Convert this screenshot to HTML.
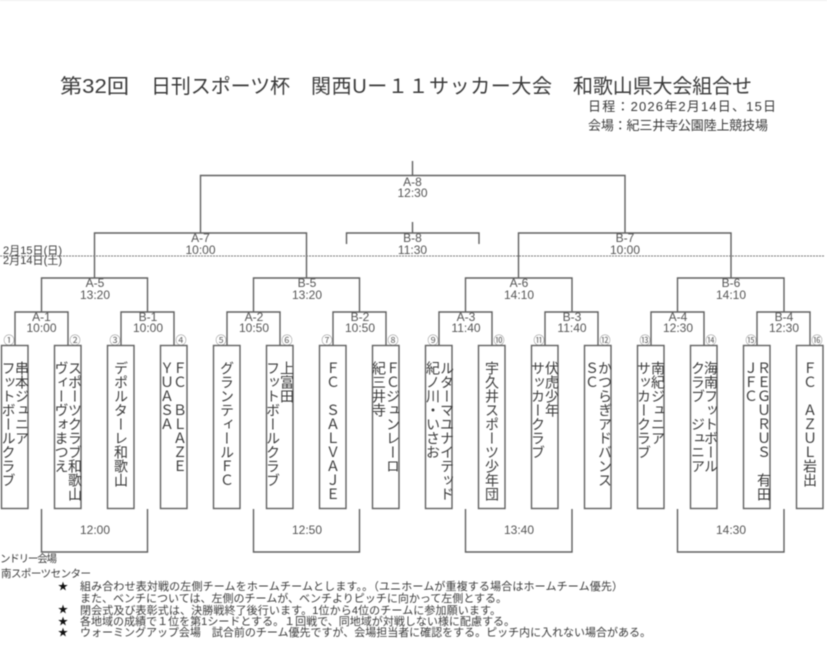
<!DOCTYPE html>
<html lang="ja"><head><meta charset="utf-8"><style>
html,body{margin:0;padding:0;background:#fff}
#p{position:relative;width:827px;height:658px;overflow:hidden;background:#fff;filter:blur(.45px);font-family:"Liberation Sans","Noto Sans CJK JP",sans-serif;color:#444}
svg{position:absolute;left:0;top:0}
.v{position:absolute;top:361px;width:14px;writing-mode:vertical-rl;text-orientation:upright;font:14px/14px "Noto Sans CJK JP",sans-serif;color:#3a3a3a;white-space:pre}
text{font-family:"Liberation Sans","Noto Sans CJK JP",sans-serif;fill:#3a3a3a}
.l text{font-size:12px;text-anchor:middle;fill:#555}
.c text{font-size:11px;text-anchor:middle;fill:#666}
</style></head><body><div id="p">
<svg width="827" height="658" viewBox="0 0 827 658">
<rect x="0" y="0" width="827" height="1" fill="#eee"/>
<g fill="none" stroke="#606060" stroke-width="1.4">
<path d="M412.5 161V175.5M200.5 233V175.5H625V233"/>
<path d="M412.5 222V233M346.5 244V233H479V244"/>
<path d="M94.5 278V233H306.5V278M518.5 278V233H731V278"/>
<path d="M41.5 312V278H147.5V312M253.5 312V278H359.5V312M465.5 312V278H572V312M677.5 312V278H784V312"/>
<path d="M15 345V312H68V345M121 345V312H174V345M227 345V312H280V345M333 345V312H386V345M439 345V312H492V345M545 345V312H598V345M651 345V312H704V345M757 345V312H810V345"/>
<rect x="1.5" y="345.5" width="26.5" height="163"/><rect x="54.5" y="345.5" width="26.5" height="163"/>
<rect x="107.5" y="345.5" width="26.5" height="163"/><rect x="160.5" y="345.5" width="26.5" height="163"/>
<rect x="213.5" y="345.5" width="26.5" height="163"/><rect x="266.5" y="345.5" width="26.5" height="163"/>
<rect x="319.5" y="345.5" width="26.5" height="163"/><rect x="372.5" y="345.5" width="26.5" height="163"/>
<rect x="425.5" y="345.5" width="26.5" height="163"/><rect x="478.5" y="345.5" width="26.5" height="163"/>
<rect x="531.5" y="345.5" width="26.5" height="163"/><rect x="584.5" y="345.5" width="26.5" height="163"/>
<rect x="637.5" y="345.5" width="26.5" height="163"/><rect x="690.5" y="345.5" width="26.5" height="163"/>
<rect x="743.5" y="345.5" width="26.5" height="163"/><rect x="796.5" y="345.5" width="26.5" height="163"/>
<path d="M41.5 509V552H147.5V509M253.5 509V552H359.5V509M465.5 509V552H572V509M677.5 509V552H784V509"/>
<path d="M0 256H825" stroke-dasharray="2 1" stroke="#777" stroke-width="1.1"/>
</g>
<text x="60" y="93" font-size="20" textLength="69" lengthAdjust="spacingAndGlyphs">第32回</text>
<text x="151" y="93" font-size="20" textLength="139">日刊スポーツ杯</text>
<text x="311" y="93" font-size="20" textLength="241">関西Uー１１サッカー大会</text>
<text x="573" y="93" font-size="20" textLength="179">和歌山県大会組合せ</text>
<text x="588" y="111" font-size="13" textLength="188">日程：2026年2月14日、15日</text>
<text x="588" y="130" font-size="13" textLength="180">会場：紀三井寺公園陸上競技場</text>
<text x="3" y="254" font-size="11" textLength="59">2月15日(日)</text>
<text x="3" y="264" font-size="11" textLength="59">2月14日(土)</text>
<g class="l">
<text x="412.5" y="186">A-8</text><text x="412.5" y="197">12:30</text>
<text x="200.5" y="242">A-7</text><text x="200.5" y="254">10:00</text>
<text x="412.5" y="242">B-8</text><text x="412.5" y="254">11:30</text>
<text x="625" y="242">B-7</text><text x="625" y="254">10:00</text>
<text x="95" y="287">A-5</text><text x="95" y="299">13:20</text>
<text x="307" y="287">B-5</text><text x="307" y="299">13:20</text>
<text x="519" y="287">A-6</text><text x="519" y="299">14:10</text>
<text x="731" y="287">B-6</text><text x="731" y="299">14:10</text>
<text x="41.5" y="321">A-1</text><text x="41.5" y="332">10:00</text>
<text x="148" y="321">B-1</text><text x="148" y="332">10:00</text>
<text x="254" y="321">A-2</text><text x="254" y="332">10:50</text>
<text x="360" y="321">B-2</text><text x="360" y="332">10:50</text>
<text x="466" y="321">A-3</text><text x="466" y="332">11:40</text>
<text x="572" y="321">B-3</text><text x="572" y="332">11:40</text>
<text x="678" y="321">A-4</text><text x="678" y="332">12:30</text>
<text x="784" y="321">B-4</text><text x="784" y="332">12:30</text>
<text x="95" y="534">12:00</text><text x="307" y="534">12:50</text><text x="519" y="534">13:40</text><text x="731" y="534">14:30</text>
</g>
<g class="c">
<text x="9" y="344">①</text><text x="75" y="344">②</text><text x="115" y="344">③</text><text x="181" y="344">④</text>
<text x="221" y="344">⑤</text><text x="287" y="344">⑥</text><text x="327" y="344">⑦</text><text x="393" y="344">⑧</text>
<text x="433" y="344">⑨</text><text x="499" y="344">⑩</text><text x="539" y="344">⑪</text><text x="605" y="344">⑫</text>
<text x="645" y="344">⑬</text><text x="711" y="344">⑭</text><text x="751" y="344">⑮</text><text x="817" y="344">⑯</text>
</g>
<text x="0" y="562" font-size="10.5" textLength="57">ンドリー会場</text>
<text x="1" y="577" font-size="10.5" textLength="90">南スポーツセンター</text>
<g>
<text x="58" y="590" font-size="10" style="fill:#111">★</text><text x="58" y="613" font-size="10" style="fill:#111">★</text><text x="58" y="625" font-size="10" style="fill:#111">★</text><text x="58" y="636" font-size="10" style="fill:#111">★</text>
<text x="80" y="590" font-size="11" textLength="543">組み合わせ表対戦の左側チームをホームチームとします。。（ユニホームが重複する場合はホームチーム優先）</text>
<text x="80" y="602" font-size="11" textLength="427">また、ベンチについては、左側のチームが、ベンチよりピッチに向かって左側とする。</text>
<text x="80" y="614" font-size="11" textLength="421">閉会式及び表彰式は、決勝戦終了後行います。1位から4位のチームに参加願います。</text>
<text x="80" y="625" font-size="11" textLength="435">各地域の成績で１位を第1シードとする。１回戦で、同地域が対戦しない様に配慮する。</text>
<text x="80" y="636" font-size="11" textLength="571">ウォーミングアップ会場　試合前のチーム優先ですが、会場担当者に確認をする。ピッチ内に入れない場合がある。</text>
</g>
</svg>
<div class="v" style="left:15px">串本ジュニア</div><div class="v" style="left:1.5px">フットボールクラブ</div>
<div class="v" style="left:68px">スポーツクラブ和歌山</div><div class="v" style="left:54.5px">ヴィーヴォまつえ</div>
<div class="v" style="left:114px">デポルターレ和歌山</div>
<div class="v" style="left:173px">ＦＣ　ＢＬＡＺＥ</div><div class="v" style="left:160px">ＹＵＡＳＡ</div>
<div class="v" style="left:220px">グランティールＦＣ</div>
<div class="v" style="left:280px">上富田</div><div class="v" style="left:266px">フットボールクラブ</div>
<div class="v" style="left:326px">ＦＣ　ＳＡＬＶＡＪＥ</div>
<div class="v" style="left:386px">ＦＣジュンレーロ</div><div class="v" style="left:372px">紀三井寺</div>
<div class="v" style="left:440px">ルターマユナイテッド</div><div class="v" style="left:426px">紀ノ川・いさお</div>
<div class="v" style="left:485px">宇久井スポーツ少年団</div>
<div class="v" style="left:545px">伏虎少年</div><div class="v" style="left:531px">サッカークラブ</div>
<div class="v" style="left:598px">かつらぎアドバンス</div><div class="v" style="left:585px">ＳＣ</div>
<div class="v" style="left:651px">南紀ジュニア</div><div class="v" style="left:637px">サッカークラブ</div>
<div class="v" style="left:704px">海南フットボール</div><div class="v" style="left:691px">クラブ　ジュニア</div>
<div class="v" style="left:757px">ＲＥＧＵＲＵＳ　有田</div><div class="v" style="left:744px">ＪＦＣ</div>
<div class="v" style="left:803px">ＦＣ　ＡＺＵＬ岩出</div>
</div></body></html>
